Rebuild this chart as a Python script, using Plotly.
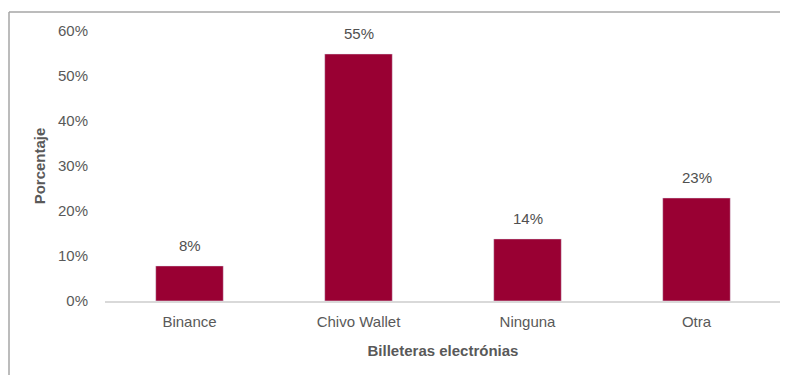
import plotly.graph_objects as go

categories = ["Binance", "Chivo Wallet", "Ninguna", "Otra"]
values = [0.078, 0.549, 0.138, 0.229]
y_ticks = [0, 0.1, 0.2, 0.3, 0.4, 0.5, 0.6]
y_tick_labels = ["0%", "10%", "20%", "30%", "40%", "50%", "60%"]

# the page adds an 8px body margin, so the figure is laid out 8px smaller
OFF = 8
W, H = 788 - OFF, 375 - OFF
ml, mt = 105 - OFF, 31 - OFF
plot_right, plot_bottom = 781 - OFF, 301 - OFF
mr, mb = W - plot_right, H - plot_bottom
pw = W - ml - mr
ph = H - mt - mb

fig = go.Figure(go.Bar(
    x=categories, y=values,
    marker_color="#990033",
))

for c, v in zip(categories, values):
    fig.add_annotation(x=c, y=v, text=f"{v:.0%}", showarrow=False,
                       yanchor="bottom", yshift=10,
                       font=dict(size=15, color="#505050"))

font = "Liberation Sans, Arial, sans-serif"
fig.update_layout(
    width=W, height=H,
    margin=dict(l=ml, r=mr, t=mt, b=mb),
    plot_bgcolor="white", paper_bgcolor="white",
    font=dict(family=font, size=15, color="#595959"),
    bargap=0.6,
    showlegend=False,
    xaxis=dict(
        showline=True, linecolor="#d9d9d9", linewidth=1.5,
        showgrid=False, ticks="", ticklabelstandoff=6,
        title=dict(text="<b>Billeteras electrónias</b>", standoff=17,
                   font=dict(size=15, color="#595959")),
    ),
    yaxis=dict(
        range=[0, 0.6], tickvals=y_ticks, ticktext=y_tick_labels,
        showgrid=False, zeroline=False, showline=False, ticks="",
        ticklabelstandoff=16,
        title=dict(text="<b>Porcentaje</b>", standoff=8,
                   font=dict(size=15, color="#595959")),
    ),
)

# outer frame (partially visible border)
x_left = (8 - OFF - ml) / pw + 1 / pw
x_right = (W - ml) / pw
y_top = 1 + (mt - (12 - OFF)) / ph
y_bot = -(mb) / ph
fig.add_shape(type="line", xref="paper", yref="paper",
              x0=x_left, x1=x_left, y0=y_bot, y1=y_top,
              line=dict(color="#a6a6a6", width=1.5))
fig.add_shape(type="line", xref="paper", yref="paper",
              x0=x_left, x1=x_right, y0=y_top, y1=y_top,
              line=dict(color="#a6a6a6", width=1.5))

fig.write_html("out.html")
